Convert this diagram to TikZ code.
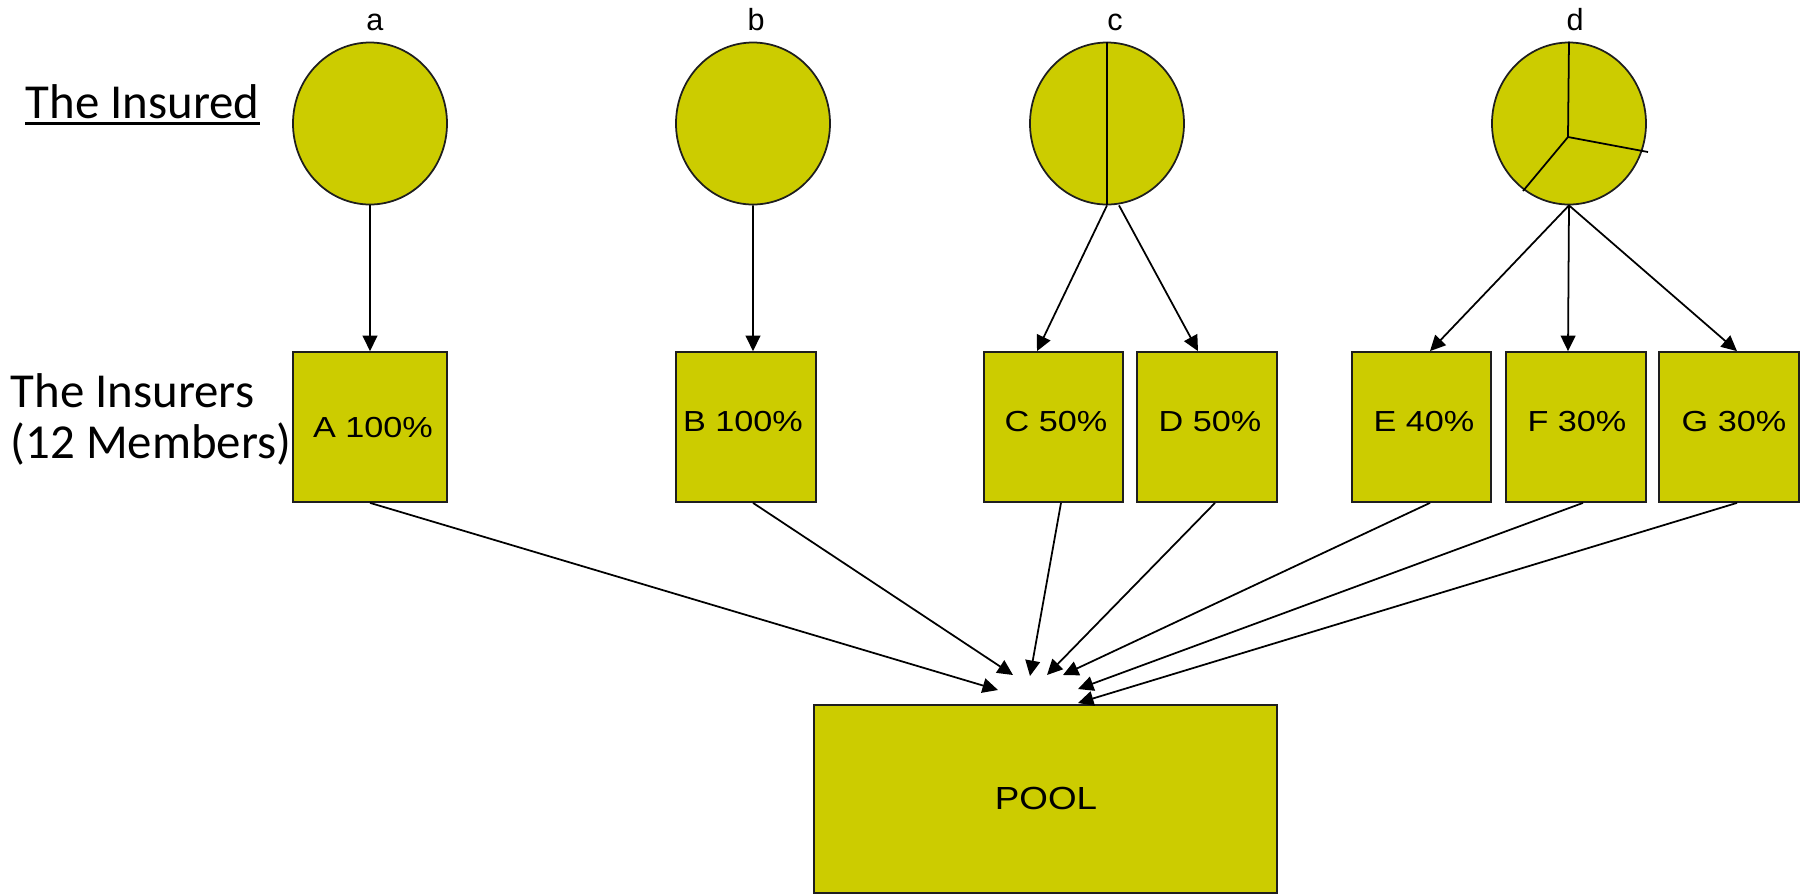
\documentclass[tikz,border=0pt]{standalone}
\usepackage{fontspec}
\usepackage{graphicx}
\usetikzlibrary{shapes.geometric,arrows.meta}
\newfontfamily\arialf{Liberation Sans}
\newfontfamily\calibf{Carlito}
\definecolor{fillc}{RGB}{204,204,0}
\definecolor{edgec}{RGB}{30,30,30}
\newcommand{\boxtxt}[1]{\scalebox{1.18}[1]{#1}}
\tikzset{
  insured/.style={ellipse,draw=edgec,fill=fillc,line width=0.5pt,minimum width=1.54cm,minimum height=1.62cm,inner sep=0pt},
  insurer/.style={rectangle,draw=edgec,fill=fillc,line width=0.5pt,inner sep=0pt},
  boxlabel/.style={anchor=base,inner sep=0pt,font=\arialf\fontsize{8.25}{10}\selectfont},
  toplabel/.style={anchor=base,inner sep=0pt,font=\arialf\fontsize{8.7}{10}\selectfont},
  sidelabel/.style={anchor=base west,inner sep=0pt,font=\calibf\fontsize{13.9}{16}\selectfont},
  arr/.style={draw=black,line width=0.5pt,-{Triangle[length=4.4pt,width=4.2pt]}},
  divider/.style={draw=black,line width=0.5pt}
}
\begin{document}
\begin{tikzpicture}
\useasboundingbox (0,0) rectangle (18.06,-8.94);
% side labels
\node[sidelabel] (insured) at (0.25,-1.18) {The Insured};
\draw[line width=0.75pt] ([yshift=-1.5pt]insured.base west) -- ([yshift=-1.5pt]insured.base east);
\node[sidelabel] (insurers1) at (0.10,-4.07) {The Insurers};
\node[sidelabel] (insurers2) at (0.10,-4.58) {(12 Members)};
% insured circles
\node[insured] (ca) at (3.70,-1.235) {};
\node[insured] (cb) at (7.53,-1.235) {};
\node[insured] (cc) at (11.07,-1.235) {};
\node[insured] (cd) at (15.69,-1.235) {};
\node[toplabel] (la) at (3.75,-0.30) {a};
\node[toplabel] (lb) at (7.56,-0.30) {b};
\node[toplabel] (lc) at (11.15,-0.30) {c};
\node[toplabel] (ld) at (15.75,-0.30) {d};
% dividers
\draw[divider] (cc.north) -- (cc.south);
\coordinate (pc) at (15.68,-1.37);
\coordinate (pr) at (16.48,-1.52);
\coordinate (pl) at (15.23,-1.91);
\draw[divider] (pc) -- (cd.north);
\draw[divider] (pc) -- (pr);
\draw[divider] (pc) -- (pl);
% insurer boxes
\node[insurer,minimum width=1.54cm,minimum height=1.50cm] (bA) at (3.70,-4.27) {};
\node[insurer,minimum width=1.40cm,minimum height=1.50cm] (bB) at (7.46,-4.27) {};
\node[insurer,minimum width=1.39cm,minimum height=1.50cm] (bC) at (10.535,-4.27) {};
\node[insurer,minimum width=1.40cm,minimum height=1.50cm] (bD) at (12.07,-4.27) {};
\node[insurer,minimum width=1.39cm,minimum height=1.50cm] (bE) at (14.215,-4.27) {};
\node[insurer,minimum width=1.40cm,minimum height=1.50cm] (bF) at (15.76,-4.27) {};
\node[insurer,minimum width=1.40cm,minimum height=1.50cm] (bG) at (17.29,-4.27) {};
\node[insurer,minimum width=4.63cm,minimum height=1.88cm] (pool) at (10.455,-7.99) {};
\node[boxlabel] (tA) at (3.73,-4.37) {\boxtxt{A 100\%}};
\node[boxlabel] (tB) at (7.43,-4.31) {\boxtxt{B 100\%}};
\node[boxlabel] (tC) at (10.56,-4.31) {\boxtxt{C 50\%}};
\node[boxlabel] (tD) at (12.10,-4.31) {\boxtxt{D 50\%}};
\node[boxlabel] (tE) at (14.24,-4.31) {\boxtxt{E 40\%}};
\node[boxlabel] (tF) at (15.77,-4.31) {\boxtxt{F 30\%}};
\node[boxlabel] (tG) at (17.34,-4.31) {\boxtxt{G 30\%}};
\node[boxlabel,font=\arialf\fontsize{9.1}{11}\selectfont] (tP) at (10.46,-8.09) {\scalebox{1.15}[1]{POOL}};
% insured -> insurers
\draw[arr] (ca.south) -- (bA.north);
\draw[arr] (cb.south) -- ([xshift=0.07cm]bB.north);
\draw[arr] (cc.south) -- ([xshift=-0.165cm]bC.north);
\draw[arr] ([xshift=0.12cm]cc.south) -- ([xshift=-0.09cm]bD.north);
\draw[arr] (cd.south) -- ([xshift=0.085cm]bE.north);
\draw[arr] (cd.south) -- ([xshift=-0.08cm]bF.north);
\draw[arr] (cd.south) -- ([xshift=0.08cm]bG.north);
% insurers -> pool
\coordinate (pA) at (9.98,-6.90);
\coordinate (pB) at (10.13,-6.75);
\coordinate (pC) at (10.30,-6.76);
\coordinate (pD) at (10.47,-6.75);
\coordinate (pE) at (10.63,-6.75);
\coordinate (pF) at (10.78,-6.89);
\coordinate (pG) at (10.78,-7.03);
\draw[arr] (bA.south) -- (pA);
\draw[arr] ([xshift=0.07cm]bB.south) -- (pB);
\draw[arr] ([xshift=0.075cm]bC.south) -- (pC);
\draw[arr] ([xshift=0.08cm]bD.south) -- (pD);
\draw[arr] ([xshift=0.085cm]bE.south) -- (pE);
\draw[arr] ([xshift=0.07cm]bF.south) -- (pF);
\draw[arr] ([xshift=0.08cm]bG.south) -- (pG);
\end{tikzpicture}
\end{document}
